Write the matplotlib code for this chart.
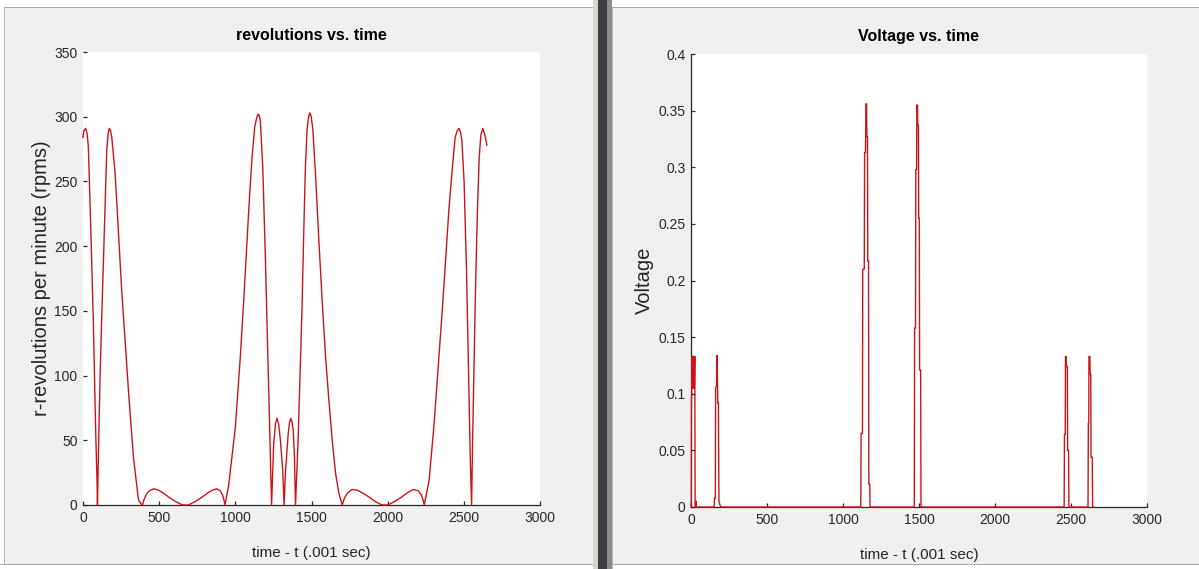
import matplotlib
matplotlib.use("Agg")
import matplotlib.pyplot as plt
from matplotlib.patches import Rectangle
from matplotlib import font_manager

# ---------------- data ----------------
t_rpm = [0, 5, 17, 27, 35, 50, 68, 83, 92, 95, 98, 112, 123, 140, 156, 165, 173, 181, 189,
         211, 228, 254, 276, 298, 331, 364, 380, 390, 400, 415, 435, 465, 495, 530, 570,
         610, 645, 660, 690, 700, 735, 775, 815, 850, 880, 900, 915, 925, 932, 956, 1000,
         1033, 1055, 1077, 1092, 1110, 1127, 1140, 1149, 1157, 1164, 1180, 1197, 1208,
         1219, 1230, 1238, 1252, 1264, 1274, 1285, 1296, 1311, 1320, 1329, 1347, 1356,
         1364, 1372, 1380, 1388, 1395, 1412, 1428, 1438, 1449, 1460, 1471, 1481, 1489,
         1498, 1509, 1526, 1548, 1570, 1592, 1614, 1636, 1658, 1680, 1695, 1702, 1715,
         1735, 1765, 1800, 1840, 1880, 1920, 1955, 1970, 2000, 2010, 2050, 2090, 2130,
         2170, 2200, 2220, 2232, 2240, 2272, 2305, 2337, 2360, 2382, 2403, 2425, 2443,
         2456, 2469, 2478, 2487, 2502, 2518, 2531, 2542, 2551, 2557, 2568, 2579, 2590,
         2601, 2612, 2625, 2638, 2651]
rpm = [284, 289, 291, 287, 277, 218, 141, 58, 19, 0, 20, 99, 145, 212, 274, 287, 291, 289, 284,
       256, 220, 166, 127, 89, 37, 4, 1, 0, 4, 8, 11, 12.5, 11.5, 9, 5.5,
       2.5, 0.5, 0, 0, 0.5, 2.5, 5.5, 9, 11.5, 12.5, 11, 8, 4, 0, 15, 60,
       115, 158, 205, 236, 269, 292, 299, 302, 301, 297, 261, 192, 141,
       89, 37, 0, 48, 63, 67, 62, 50, 27, 0, 25, 55, 64,
       67, 64, 58, 37, 0, 50, 115, 153, 210, 261, 290, 300, 303,
       300, 290, 256, 205, 158, 115, 81, 50, 24.5, 9, 3, 0, 5,
       9, 12, 11.5, 9, 6, 2.5, 0.5, 0, 0, 0.5, 3, 6, 9.5,
       12, 11, 8, 4, 0, 19, 63, 115, 153, 192, 230, 261, 284,
       289, 291, 288, 282, 249, 179, 102, 37, 0, 45, 115, 179, 230,
       269, 286, 291, 286, 278]

t_volt = [0, 2, 3, 5, 8, 10, 13, 16, 19, 22, 25, 27, 31, 33, 35,
          152, 155, 160, 162, 168, 172, 176, 180, 184, 190, 196,
          1117, 1119, 1128, 1130, 1140, 1142, 1148, 1151, 1155, 1157, 1161, 1163, 1168, 1170, 1176, 1178,
          1469, 1471, 1477, 1479, 1484, 1486, 1490, 1492, 1496, 1498, 1502, 1504, 1511, 1513,
          2455, 2457, 2462, 2464, 2468, 2470, 2476, 2478, 2484, 2486,
          2612, 2614, 2617, 2618, 2624, 2626, 2630, 2632, 2640, 2642, 2650]
volt = [0, 0.006, 0.095, 0.10, 0.133, 0.105, 0.133, 0.105, 0.133, 0.105, 0.133, 0, 0, 0.005, 0,
        0, 0.008, 0.008, 0.105, 0.107, 0.134, 0.092, 0.092, 0.005, 0.002, 0,
        0, 0.065, 0.065, 0.21, 0.21, 0.313, 0.313, 0.356, 0.356, 0.327, 0.327, 0.217, 0.217, 0.02, 0.02, 0,
        0, 0.158, 0.158, 0.298, 0.298, 0.355, 0.355, 0.337, 0.337, 0.255, 0.255, 0.121, 0.121, 0,
        0, 0.064, 0.064, 0.133, 0.133, 0.124, 0.124, 0.05, 0.05, 0,
        0, 0.074, 0.074, 0.133, 0.133, 0.117, 0.117, 0.044, 0.044, 0, 0]

x_ticks = [0, 500, 1000, 1500, 2000, 2500, 3000]
x_ticklabels = ["0", "500", "1000", "1500", "2000", "2500", "3000"]
rpm_ticks = [0, 50, 100, 150, 200, 250, 300, 350]
rpm_ticklabels = ["0", "50", "100", "150", "200", "250", "300", "350"]
volt_ticks = [0, 0.05, 0.1, 0.15, 0.2, 0.25, 0.3, 0.35, 0.4]
volt_ticklabels = ["0", "0.05", "0.1", "0.15", "0.2", "0.25", "0.3", "0.35", "0.4"]

# ---------------- style ----------------
W, H = 1199, 569
names = {f.name for f in font_manager.fontManager.ttflist}
if "Liberation Sans Narrow" in names:
    HFONT = ["Liberation Sans Narrow", "Liberation Sans", "DejaVu Sans"]
    tick_fs, title_fs, xl_fs = 11.5, 13.5, 13
else:
    HFONT = ["Liberation Sans", "DejaVu Sans"]
    tick_fs, title_fs, xl_fs = 10, 11.5, 11
VFONT = ["Liberation Sans", "DejaVu Sans"]
yl_fs = 14.5

AX_COL = "#262626"
LINE_COL = "#cc1418"
BG = "#f0f0f0"

fig = plt.figure(figsize=(W / 100, H / 100), dpi=100, facecolor=BG)


def px_rect(x, y, w, h, color, z=-5):
    fig.add_artist(Rectangle((x / W, 1 - (y + h) / H), w / W, h / H,
                             transform=fig.transFigure, facecolor=color,
                             edgecolor="none", zorder=z))


# window decorations (screenshot frame)
px_rect(0, 0, W, 7, "white")
px_rect(0, 7, W, 1, "#a8a8a8")
px_rect(0, 0, 4, H, "white")
px_rect(4, 7, 1, H, "#b4b4b4")
px_rect(0, 565, W, 4, "white")
px_rect(0, 564, W, 1, "#a8a8a8")
px_rect(593, 0, 5, H, "#d4d6cc")
px_rect(598, 0, 9, H, "#3e3e3e")
px_rect(607, 0, 5, H, "#8c8c8c")
px_rect(612, 8, 1, H, "#b8b8b8")


def style_axes(ax, xticks, xtl, yticks, ytl, ylim, show_left):
    ax.set_facecolor("white")
    ax.set_xlim(0, 3000)
    ax.set_ylim(*ylim)
    for s in ("top", "right"):
        ax.spines[s].set_visible(False)
    ax.spines["left"].set_visible(show_left)
    for s in ("left", "bottom"):
        ax.spines[s].set_color(AX_COL)
        ax.spines[s].set_linewidth(0.9)
    ax.set_xticks(xticks)
    ax.set_xticklabels(xtl, family=HFONT, fontsize=tick_fs, color=AX_COL)
    ax.set_yticks(yticks)
    ax.set_yticklabels(ytl, family=HFONT, fontsize=tick_fs, color=AX_COL)
    ax.tick_params(direction="in", length=3.2, width=0.9, color=AX_COL)
    ax.tick_params(axis="y", pad=4)
    ax.tick_params(axis="x", pad=4)


# left: revolutions
ax1 = fig.add_axes([83 / W, (H - 505) / H, 457 / W, 453 / H])
style_axes(ax1, x_ticks, x_ticklabels, rpm_ticks, rpm_ticklabels, (0, 350), False)
ax1.plot(t_rpm, rpm, color=LINE_COL, linewidth=1.0, zorder=3, clip_on=False)
ax1.set_title("revolutions vs. time", family=HFONT, fontsize=title_fs,
              fontweight="bold", pad=0, y=1 + 16 / 453, va="center", color="black")
ax1.set_xlabel("time - t (.001 sec)", family=HFONT, fontsize=xl_fs, color=AX_COL, va="center")
ax1.xaxis.set_label_coords(0.5, -48 / 453)
ax1.set_ylabel("r-revolutions per minute (rpms)", family=VFONT, fontsize=yl_fs,
               color=AX_COL, va="center")
ax1.yaxis.set_label_coords(-41 / 457, 0.5)

# right: voltage
ax2 = fig.add_axes([691 / W, (H - 507) / H, 456 / W, 453 / H])
style_axes(ax2, x_ticks, x_ticklabels, volt_ticks, volt_ticklabels, (0, 0.4), True)
ax2.plot(t_volt, volt, color=LINE_COL, linewidth=1.0, zorder=3, clip_on=False)
ax2.set_title("Voltage vs. time", family=HFONT, fontsize=title_fs,
              fontweight="bold", pad=0, y=1 + 17 / 453, va="center", color="black")
ax2.set_xlabel("time - t (.001 sec)", family=HFONT, fontsize=xl_fs, color=AX_COL, va="center")
ax2.xaxis.set_label_coords(0.5, -48 / 453)
ax2.set_ylabel("Voltage", family=VFONT, fontsize=yl_fs, color=AX_COL, va="center")
ax2.yaxis.set_label_coords(-47 / 456, 0.5)

fig.savefig("out.png", dpi=100, facecolor=BG)
